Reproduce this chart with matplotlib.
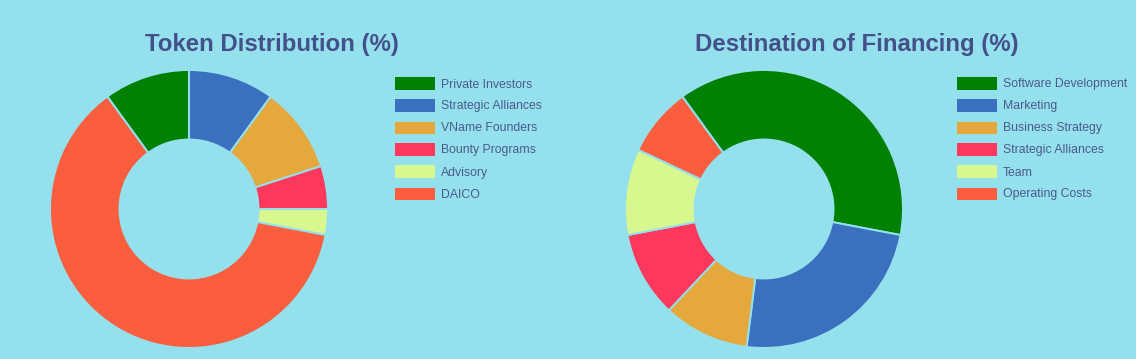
import matplotlib.pyplot as plt
from matplotlib.patches import Rectangle

W, H = 1136, 359
bg = '#94e1ed'
title_col = '#44508a'
text_col = '#4b5a8c'

token_labels = ['Private Investors', 'Strategic Alliances', 'VName Founders',
                'Bounty Programs', 'Advisory', 'DAICO']
token_values = [10, 10, 10, 5, 3, 62]

fin_labels = ['Software Development', 'Marketing', 'Business Strategy',
              'Strategic Alliances', 'Team', 'Operating Costs']
fin_values = [38, 24, 10, 10, 10, 8]

colors = ['#008000', '#3b70bf', '#e5a83c', '#ff385c', '#d9f78f', '#fb5e3f']

plt.rcParams['font.family'] = ['Liberation Sans', 'DejaVu Sans']

fig = plt.figure(figsize=(W / 100, H / 100), dpi=100)
fig.patch.set_facecolor(bg)


def px_axes(cx, cy, r):
    return fig.add_axes([(cx - r) / W, (H - cy - r) / H, 2 * r / W, 2 * r / H])


def donut(cx, cy, r, values, title, tx, lx, labels):
    ax = px_axes(cx, cy, r)
    ax.pie(values, colors=colors, startangle=126, counterclock=False,
           radius=1, wedgeprops=dict(width=0.5, edgecolor=bg, linewidth=1.4))
    ax.set_xlim(-1, 1)
    ax.set_ylim(-1, 1)
    ax.set_aspect('auto')
    ax.axis('off')
    fig.text(tx / W, 1 - 44 / H, title, ha='center', va='center',
             fontsize=17.3, fontweight='bold', color=title_col)
    for i, lab in enumerate(labels):
        y = 83.5 + 22 * i
        fig.patches.append(Rectangle((lx / W, (H - y - 6) / H), 40 / W, 12 / H,
                                     transform=fig.transFigure,
                                     facecolor=colors[i], edgecolor='none'))
        fig.text((lx + 46) / W, 1 - (y + 1) / H, lab, ha='left', va='center',
                 fontsize=8.8, color=text_col)


donut(189, 209, 139, token_values, 'Token Distribution (%)', 272, 395, token_labels)
donut(764, 209, 139, fin_values, 'Destination of Financing (%)', 857, 957, fin_labels)

fig.savefig('out.png', dpi=100, facecolor=bg)
